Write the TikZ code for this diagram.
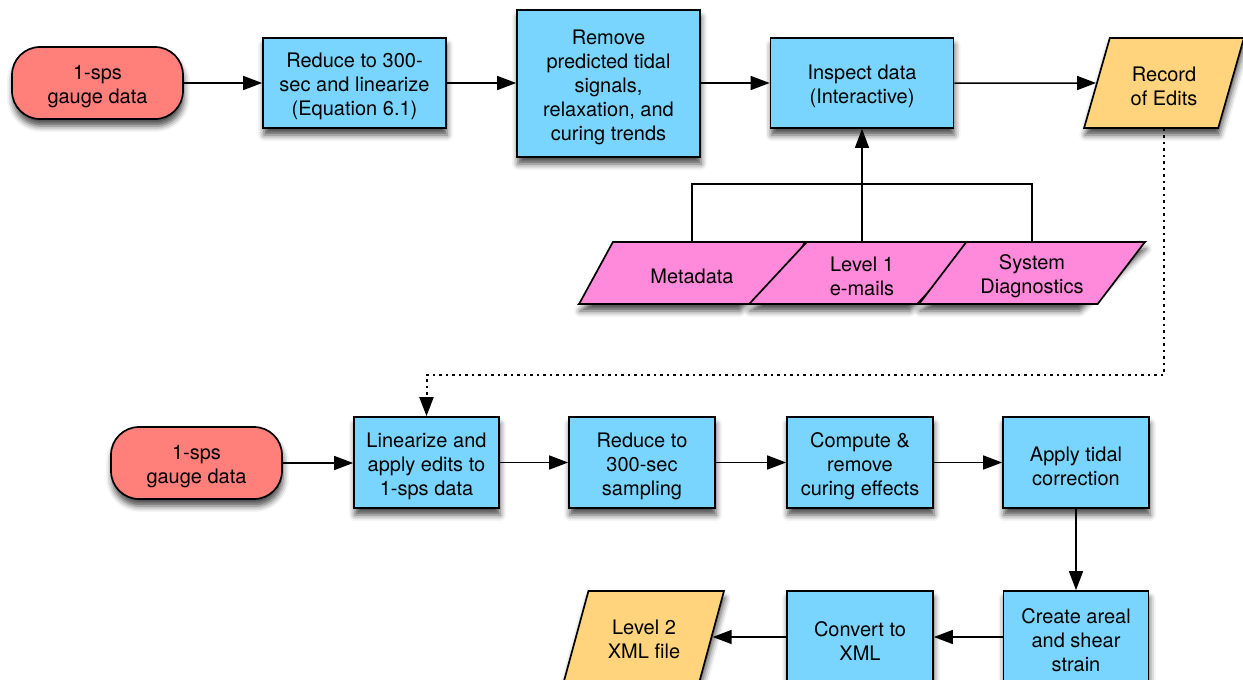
\documentclass[tikz,border=0pt]{standalone}
\usepackage{fontspec}
\setmainfont{TeX Gyre Heros}
\usetikzlibrary{shapes.geometric,arrows.meta,shadows.blur}
\definecolor{cred}{HTML}{FF7F7A}
\definecolor{cblue}{HTML}{79D5FE}
\definecolor{cyel}{HTML}{FFD47C}
\definecolor{cpink}{HTML}{FF89DA}
\newcommand\fstrut{\rule{0pt}{22pt}}
\begin{document}
\begin{tikzpicture}[x=1pt,y=-1pt,
  font=\fontsize{20}{24}\selectfont,
  shad/.style={blur shadow={shadow xshift=1pt,shadow yshift=-7pt,shadow blur radius=6pt,shadow opacity=70}},
  base/.style={draw=black,line width=1.7pt,align=center,inner sep=2pt},
  proc/.style={base,shad,fill=cblue,rectangle},
  term/.style={base,shad,fill=cred,rectangle,rounded corners=28pt,minimum width=171pt,minimum height=72pt},
  io/.style={base,shape=trapezium,trapezium stretches=true,trapezium left angle=71.57,trapezium right angle=108.43,minimum width=160pt,minimum height=90pt},
  pk/.style={base,shape=trapezium,trapezium stretches=true,trapezium left angle=54.64,trapezium right angle=125.36,minimum width=226pt,minimum height=62pt,fill=cpink},
  flow/.style={line width=1.5pt,-{Triangle[length=19pt,width=14pt]}},
  link/.style={line width=1.5pt},
  dots/.style={line width=2pt,dash pattern=on 2.5pt off 4pt,-{Triangle[length=19pt,width=14pt]}}
]
\useasboundingbox (0,0) rectangle (1243,680);
% top row
\node[term] (g1) at (97.5,83) {\fstrut 1-sps\\gauge data};
\node[proc,minimum width=183pt,minimum height=90pt] (r1) at (354.5,83) {\fstrut Reduce to 300-\\sec and linearize\\(Equation 6.1)};
\node[proc,minimum width=183pt,minimum height=147pt] (rm) at (608.5,83.5) {\fstrut Remove\\predicted tidal\\signals,\\relaxation, and\\curing trends};
\node[proc,minimum width=183pt,minimum height=90pt] (in) at (862,83) {\fstrut Inspect data\\(Interactive)};
\node[io,shad,fill=cyel] (rec) at (1164,83) {\fstrut Record\\of Edits};
% pink inputs: shadows first, then shapes
\node[pk,shad] (ms) at (692,273) {};
\node[pk,shad] (ls) at (862,273) {};
\node[pk,shad] (ss) at (1032,273) {};
\node[pk] (meta) at (692,273) {\fstrut Metadata};
\node[pk] (lev) at (862,273) {\fstrut Level 1\\e-mails};
\node[pk] (sys) at (1032,273) {\fstrut System\\Diagnostics};
% bottom rows
\node[term] (g2) at (196.5,463) {\fstrut 1-sps\\gauge data};
\node[proc,minimum width=145pt,minimum height=91pt] (lin) at (426.5,462.5) {\fstrut Linearize and\\apply edits to\\1-sps data};
\node[proc,minimum width=146pt,minimum height=91pt] (r2) at (642,462.5) {\fstrut Reduce to\\300-sec\\sampling};
\node[proc,minimum width=146pt,minimum height=91pt] (cmp) at (860,462.5) {\fstrut Compute \&\\remove\\curing effects};
\node[proc,minimum width=146pt,minimum height=91pt] (app) at (1076,462.5) {\fstrut Apply tidal\\correction};
\node[proc,minimum width=145pt,minimum height=92pt] (cr) at (1076,637) {\fstrut Create areal\\and shear\\strain};
\node[proc,minimum width=146pt,minimum height=92pt] (cv) at (860,637) {\fstrut Convert to\\XML};
\node[io,shad,fill=cyel] (l2) at (644,636) {\fstrut Level 2\\XML file};
% connectors
\draw[flow] (g1.east) -- (g1.east -| r1.west);
\draw[flow] (r1.east) -- (r1.east -| rm.west);
\draw[flow] (rm.east |- in.west) -- (in.west);
\draw[flow] (in.east) -- (rec.west);
\draw[link] (meta.center |- meta.north) -- ++(0,-57) -| (sys.center |- sys.north);
\draw[flow] (lev.center |- lev.north) -- (in.south);
\draw[dots] (rec.center |- rec.south) -- ++(0,246) -| (lin.north);
\draw[flow] (g2.east) -- (g2.east -| lin.west);
\draw[flow] (lin.east) -- (r2.west);
\draw[flow] (r2.east) -- (cmp.west);
\draw[flow] (cmp.east) -- (app.west);
\draw[flow] (app.south) -- (cr.north);
\draw[flow] (cr.west) -- (cr.west -| cv.east);
\draw[flow] (cv.west) -- (cv.west -| l2.east);
\end{tikzpicture}
\end{document}
